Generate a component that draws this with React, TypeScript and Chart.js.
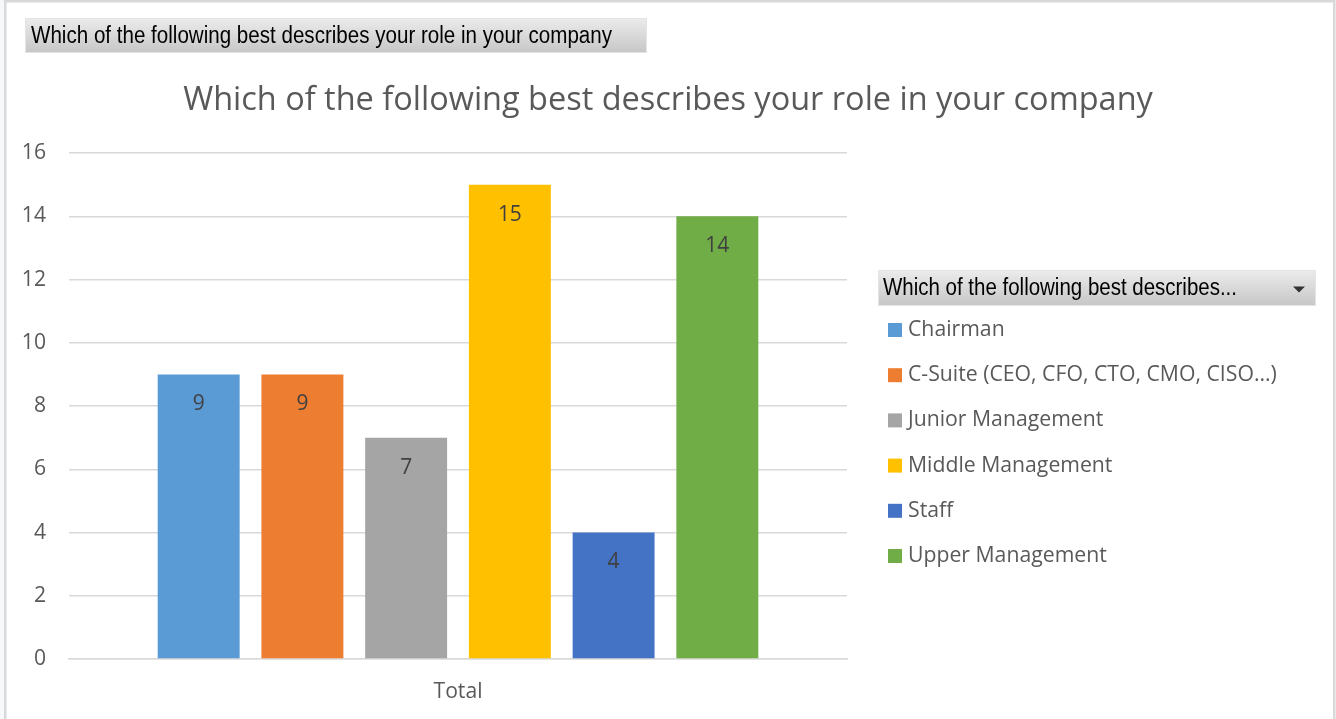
import { useEffect, useRef } from 'react';
import { Chart, registerables } from 'chart.js';

Chart.register(...registerables);

// ---- data ----
const categories = ['Total'];
const seriesNames = [
  'Chairman',
  'C-Suite (CEO, CFO, CTO, CMO, CISO...)',
  'Junior Management',
  'Middle Management',
  'Staff',
  'Upper Management',
];
const seriesValues = [9, 9, 7, 15, 4, 14];
const seriesColors = ['#5B9BD5', '#ED7D31', '#A5A5A5', '#FFC000', '#4472C4', '#70AD47'];
const yMin = 0;
const yMax = 16;
const yStep = 2;
const titleText = 'Which of the following best describes your role in your company';
const fieldButtonText = 'Which of the following best describes your role in your company';
const legendHeaderText = 'Which of the following best describes...';

const SANS = "'Open Sans', 'Noto Sans', sans-serif";
const NARROW = "'Liberation Sans Narrow', 'Liberation Sans', sans-serif";

function measure(text: string, family: string, size: number): number {
  const c = document.createElement('canvas').getContext('2d')!;
  c.font = `${size}px ${family}`;
  return c.measureText(text).width;
}

function fitSize(text: string, family: string, target: number): number {
  return (100 * target) / measure(text, family, 100);
}

export default function App() {
  const ref = useRef<HTMLCanvasElement | null>(null);

  useEffect(() => {
    const canvas = ref.current!;
    const titleSize = fitSize(titleText, SANS, 970);
    const tickSize = fitSize('Total', SANS, 49);
    const labelSize = fitSize('15', SANS, 24);
    const legendSize = fitSize(seriesNames[1], SANS, 369);
    const btnSize = 23;
    const btnScale = 581 / measure(fieldButtonText, NARROW, btnSize);
    const hdrSize = 23;
    const hdrScale = 354 / measure(legendHeaderText, NARROW, hdrSize);

    const background = {
      id: 'background',
      beforeDraw(chart: any) {
        const ctx = chart.ctx;
        ctx.save();
        ctx.fillStyle = '#f7f8f9';
        ctx.fillRect(0, 0, chart.width, chart.height);
        ctx.fillStyle = '#ffffff';
        ctx.fillRect(6, 2, 1327, chart.height);
        ctx.fillStyle = '#d9d9d9';
        ctx.fillRect(4, 0, 2.5, chart.height);
        ctx.fillRect(4, 0, 1330, 2.5);
        ctx.fillRect(1333, 0, 2.5, chart.height);
        ctx.restore();
      },
    };

    const dataLabels = {
      id: 'dataLabels',
      afterDatasetsDraw(chart: any) {
        const ctx = chart.ctx;
        ctx.save();
        ctx.font = `${labelSize}px ${SANS}`;
        ctx.fillStyle = '#404040';
        ctx.textAlign = 'center';
        ctx.textBaseline = 'middle';
        chart.data.datasets.forEach((ds: any, i: number) => {
          const meta = chart.getDatasetMeta(i);
          meta.data.forEach((bar: any, j: number) => {
            ctx.fillText(String(ds.data[j]), bar.x, bar.y + 30);
          });
        });
        ctx.restore();
      },
    };

    const drawButton = (ctx: any, x: number, y: number, w: number, h: number) => {
      const g = ctx.createLinearGradient(0, y, 0, y + h);
      g.addColorStop(0, '#ececec');
      g.addColorStop(1, '#c6c6c6');
      ctx.fillStyle = g;
      ctx.fillRect(x, y, w, h);
      ctx.strokeStyle = '#e4e4e4';
      ctx.lineWidth = 1;
      ctx.strokeRect(x + 0.5, y + 0.5, w - 1, h - 1);
    };

    const scaledText = (ctx: any, text: string, x: number, y: number, sx: number) => {
      ctx.save();
      ctx.translate(x, y);
      ctx.scale(sx, 1);
      ctx.fillText(text, 0, 0);
      ctx.restore();
    };

    const pivotDecor = {
      id: 'pivotDecor',
      afterDraw(chart: any) {
        const ctx = chart.ctx;
        ctx.save();
        ctx.textAlign = 'left';
        ctx.textBaseline = 'middle';
        // field button (top-left)
        drawButton(ctx, 25, 18, 622, 35);
        ctx.fillStyle = '#000000';
        ctx.font = `${btnSize}px ${NARROW}`;
        scaledText(ctx, fieldButtonText, 31, 37, btnScale);

        // legend header
        drawButton(ctx, 878, 270, 438, 36);
        ctx.fillStyle = '#000000';
        ctx.font = `${hdrSize}px ${NARROW}`;
        scaledText(ctx, legendHeaderText, 883, 289, hdrScale);
        ctx.fillStyle = '#333333';
        ctx.beginPath();
        ctx.moveTo(1293, 286.5);
        ctx.lineTo(1305, 286.5);
        ctx.lineTo(1299, 292.5);
        ctx.closePath();
        ctx.fill();

        // legend items
        ctx.font = `${legendSize}px ${SANS}`;
        chart.data.datasets.forEach((ds: any, i: number) => {
          const cy = 330 + i * 45.2;
          ctx.fillStyle = ds.backgroundColor;
          ctx.fillRect(888, cy - 7, 14, 14);
          ctx.fillStyle = '#595959';
          ctx.fillText(ds.label, 908, cy);
        });
        ctx.restore();
      },
    };

    const chart = new Chart(canvas, {
      type: 'bar',
      data: {
        labels: categories,
        datasets: seriesNames.map((name, i) => ({
          label: name,
          data: [seriesValues[i]],
          backgroundColor: seriesColors[i],
          borderWidth: 0,
          categoryPercentage: 0.8,
          barPercentage: 0.79,
          yAxisID: 'y',
        })),
      },
      options: {
        responsive: false,
        animation: false,
        layout: { padding: 0 },
        plugins: {
          legend: { display: false },
          tooltip: { enabled: false },
          title: {
            display: true,
            text: titleText,
            color: '#595959',
            font: { family: SANS, size: titleSize, weight: 'normal', lineHeight: 1.2 },
            padding: { top: 101 - titleSize * 0.6, bottom: 153 - 101 - titleSize * 0.6 },
          },
        },
        scales: {
          x: {
            grid: { display: false },
            border: { display: true, color: '#d9d9d9', width: 1.5 },
            ticks: { color: '#595959', font: { family: SANS, size: tickSize }, padding: 12 },
            afterFit: (s: any) => {
              s.height = 60;
            },
          },
          y: {
            position: 'left',
            min: yMin,
            max: yMax,
            ticks: {
              stepSize: yStep,
              color: '#595959',
              font: { family: SANS, size: tickSize },
              padding: 23,
            },
            grid: { color: '#d9d9d9', lineWidth: 1.5, drawTicks: false },
            border: { display: false },
            afterFit: (s: any) => {
              s.width = 69;
            },
          },
          legendSpace: {
            type: 'linear',
            position: 'right',
            display: true,
            grid: { display: false, drawTicks: false },
            border: { display: false },
            ticks: { display: false },
            afterFit: (s: any) => {
              s.width = 489;
            },
          },
        },
      },
      plugins: [background, dataLabels, pivotDecor],
    } as any);

    return () => chart.destroy();
  }, []);

  return (
    <div style={{ position: 'fixed', left: 0, top: 0, width: 1336, height: 719 }}>
      <canvas ref={ref} width={1336} height={719} style={{ display: 'block' }} />
    </div>
  );
}
